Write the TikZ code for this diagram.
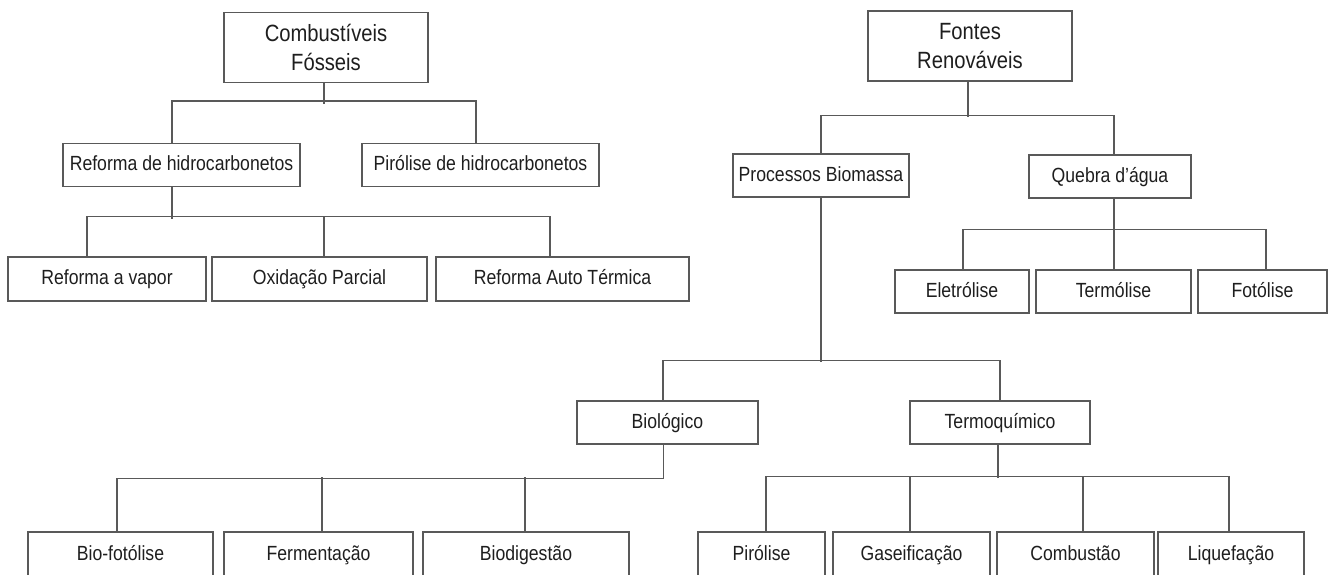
\documentclass[tikz,border=0pt]{standalone}
\usepackage{fontspec}
\setmainfont{Liberation Sans}[FakeStretch=0.86]
\definecolor{linegray}{HTML}{595959}
\definecolor{inkblack}{HTML}{1E1E1E}
\begin{document}
\begin{tikzpicture}[x=1pt,y=-1pt,
  frame/.style={draw=linegray, line width=1.4pt, inner sep=0pt, text=inkblack},
  box/.style={frame, minimum height=43pt, text height=16pt, text depth=4.3pt,
              font=\fontsize{20.5}{24}\selectfont},
  topbox/.style={frame, minimum height=70pt, align=center,
              font=\fontsize{23.5}{29}\selectfont},
  leafbox/.style={box, minimum height=46pt},
  link/.style={draw=linegray, line width=1.4pt, line cap=rect}]
\useasboundingbox (0,0) rectangle (1329,574);

% ---------- fossil fuels ----------
\node[topbox, minimum width=204pt] (cf) at (326,47.5) {Combustíveis\\Fósseis};
\node[box, minimum width=237pt] (rh) at (181.5,165) {Reforma de hidrocarbonetos};
\node[box, minimum width=237pt] (ph) at (480.5,165) {Pirólise de hidrocarbonetos};
\node[box, minimum width=198pt, minimum height=44pt] (rv) at (107,279) {Reforma a vapor};
\node[box, minimum width=215pt, minimum height=44pt] (op) at (319.5,279) {Oxidação Parcial};
\node[box, minimum width=253pt, minimum height=44pt] (rat) at (562.5,279) {Reforma Auto Térmica};

\draw[link] ([xshift=-2pt]cf.south) -- ++(0,20);
\draw[link] ([xshift=-9.5pt]rh.north) -- ++(0,-42) -- ([xshift=-4.5pt,yshift=42pt]ph.north) -- ([xshift=-4.5pt]ph.north);

\draw[link] ([xshift=-9.5pt]rh.south) -- ++(0,31);
\draw[link] ([xshift=-20pt]rv.north) -- ++(0,-40) -- ([xshift=-12.5pt,yshift=40pt]rat.north) -- ([xshift=-12.5pt]rat.north);
\draw[link] ([xshift=4.5pt]op.north) -- ++(0,-40);

% ---------- renewable sources ----------
\node[topbox, minimum width=204pt] (fr) at (970,46) {Fontes\\Renováveis};
\node[box, minimum width=176pt] (pb) at (821,175.5) {Processos Biomassa};
\node[box, minimum width=162pt] (qa) at (1110,176.5) {Quebra d’água};
\node[box, minimum width=134pt] (el) at (962,291.5) {Eletrólise};
\node[box, minimum width=155pt] (te) at (1113.5,291.5) {Termólise};
\node[box, minimum width=129pt] (fo) at (1262.5,291.5) {Fotólise};

\draw[link] ([xshift=-2pt]fr.south) -- ++(0,35);
\draw[link] (pb.north) -- ++(0,-38) -- ([xshift=4pt,yshift=39pt]qa.north) -- ([xshift=4pt]qa.north);

\draw[link] ([xshift=4pt]qa.south) -- ++(0,32);
\draw[link] ([xshift=1pt]el.north) -- ++(0,-40) -- ([xshift=3.5pt,yshift=40pt]fo.north) -- ([xshift=3.5pt]fo.north);
\draw[link] ([xshift=0.5pt]te.north) -- ++(0,-40);

% ---------- biomass processes ----------
\node[box, minimum width=181pt] (bi) at (667.5,422.5) {Biológico};
\node[box, minimum width=180pt] (tq) at (1000,422.5) {Termoquímico};

\draw[link] (pb.south) -- ++(0,164);
\draw[link] ([xshift=-4.5pt]bi.north) -- ++(0,-40) -- ([yshift=40pt]tq.north) -- (tq.north);

\node[leafbox, minimum width=185pt] (bf) at (120.5,555) {Bio-fotólise};
\node[leafbox, minimum width=189pt] (fe) at (318.5,555) {Fermentação};
\node[leafbox, minimum width=206pt] (bd) at (526,555) {Biodigestão};

\draw[link] ([xshift=-4pt]bi.south) -- ++(0,34) -| ([xshift=-3.5pt]bf.north);
\draw[link] ([xshift=3.5pt]fe.north) -- ++(0,-54);
\draw[link] ([xshift=-1pt]bd.north) -- ++(0,-54);

\node[leafbox, minimum width=127pt] (pi) at (761.5,555) {Pirólise};
\node[leafbox, minimum width=157pt] (ga) at (911.5,555) {Gaseificação};
\node[leafbox, minimum width=157pt] (co) at (1075.5,555) {Combustão};
\node[leafbox, minimum width=146pt] (li) at (1231,555) {Liquefação};

\draw[link] ([xshift=-2pt]tq.south) -- ++(0,33);
\draw[link] ([xshift=4.5pt]pi.north) -- ++(0,-55) -- ([xshift=-2pt,yshift=55pt]li.north) -- ([xshift=-2pt]li.north);
\draw[link] ([xshift=-1.5pt]ga.north) -- ++(0,-55);
\draw[link] ([xshift=7.5pt]co.north) -- ++(0,-55);
\end{tikzpicture}
\end{document}
